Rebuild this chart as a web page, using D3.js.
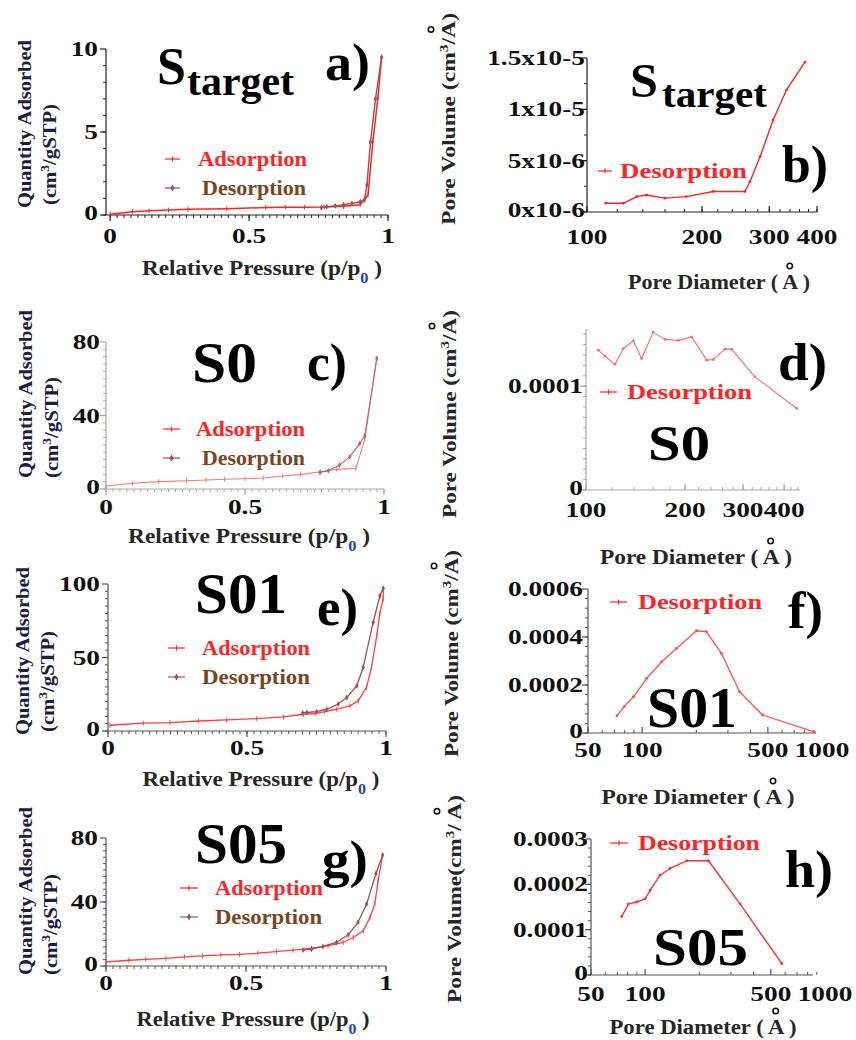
<!DOCTYPE html>
<html>
<head>
<meta charset="utf-8">
<script src="https://cdn.jsdelivr.net/npm/d3@7"></script>
<style>
  body { margin: 0; background: #fff; }
  svg, svg text, svg tspan { font-family: "Liberation Serif", "DejaVu Serif", serif; font-weight: bold; }
</style>
</head>
<body>
<script>
// ---------- data ----------
// a) S_target isotherm
const aAdsP = [0.0, 0.08, 0.14, 0.21, 0.28, 0.42, 0.56, 0.63, 0.70, 0.77, 0.84, 0.90, 0.928, 0.946, 0.964, 0.977];
const aAdsQ = [0.05, 0.2, 0.25, 0.3, 0.35, 0.38, 0.45, 0.47, 0.47, 0.48, 0.52, 0.62, 1.2, 4.5, 7.1, 9.5];
const aDesP = [0.977, 0.955, 0.937, 0.924, 0.915, 0.90, 0.87, 0.84, 0.81, 0.78, 0.76];
const aDesQ = [9.5, 7.0, 4.4, 1.8, 0.9, 0.8, 0.7, 0.62, 0.55, 0.5, 0.45];
// b) S_target pore size distribution
const bDia = [112, 124.5, 135, 143, 160, 182, 214, 259, 267, 284, 307, 333, 372];
const bVol = [0.85e-6, 0.85e-6, 1.5e-6, 1.65e-6, 1.35e-6, 1.5e-6, 2.0e-6, 2.0e-6, 2.95e-6, 5.4e-6, 8.96e-6, 11.9e-6, 14.6e-6];
// c) S0 isotherm
const cAdsP = [0, 0.095, 0.19, 0.29, 0.36, 0.426, 0.5, 0.565, 0.636, 0.7, 0.77, 0.83, 0.899, 0.931, 0.974];
const cAdsQ = [1.6, 3.1, 4, 4.5, 4.9, 5.3, 5.6, 6, 7.1, 7.8, 9.4, 10.7, 11.3, 27, 71];
const cDesP = [0.974, 0.931, 0.913, 0.877, 0.84, 0.80, 0.77];
const cDesQ = [71, 29, 24.8, 17.6, 13, 10, 9];
// d) S0 pore size distribution
const dDia = [109, 114.2, 122.5, 129.8, 139.2, 147.6, 160, 173.8, 190.7, 209.5, 232.8, 243.6, 264.4, 277, 326, 437];
const dVol = [134.6e-6, 128.8e-6, 121e-6, 136e-6, 143.6e-6, 126.6e-6, 152e-6, 145e-6, 144e-6, 147.4e-6, 125e-6, 125.6e-6, 135.6e-6, 135.6e-6, 109e-6, 78.5e-6];
// e) S01 isotherm
const eAdsP = [0.007, 0.127, 0.223, 0.325, 0.427, 0.535, 0.631, 0.703, 0.745, 0.78, 0.823, 0.87, 0.90, 0.93, 0.948, 0.967, 0.978, 0.99, 0.99];
const eAdsQ = [3.9, 5.3, 5.7, 6.8, 7.5, 8.4, 9.6, 11.4, 11.9, 13.2, 14.8, 17.1, 20.5, 29.7, 43.4, 65, 80, 90, 97];
const eDesP = [0.99, 0.978, 0.954, 0.918, 0.895, 0.859, 0.828, 0.787, 0.75, 0.715, 0.70];
const eDesQ = [97, 92, 74, 43.4, 30.8, 22.8, 18.3, 14.8, 13.2, 12.6, 12.3];
// f) S01 pore size distribution
const fDia = [72.5, 79.5, 89.5, 106, 128.5, 155.5, 200.5, 227.5, 276, 348, 467, 905];
const fVol = [72e-6, 110e-6, 151e-6, 228e-6, 297e-6, 353e-6, 426e-6, 422e-6, 332e-6, 172e-6, 75e-6, 5e-6];
// g) S05 isotherm
const gAdsP = [0, 0.082, 0.142, 0.214, 0.28, 0.345, 0.41, 0.477, 0.542, 0.608, 0.668, 0.734, 0.793, 0.847, 0.883, 0.919, 0.943, 0.96, 0.972, 0.988];
const gAdsQ = [2.5, 3.6, 4.2, 4.8, 5.7, 6.3, 6.9, 7.3, 8, 9, 9.9, 11.1, 12.6, 14.7, 17.8, 22, 30.4, 38.8, 53.5, 69.3];
const gDesP = [0.988, 0.964, 0.931, 0.90, 0.865, 0.823, 0.775, 0.734, 0.704];
const gDesQ = [69.3, 57.8, 38.8, 27.3, 19.5, 14.7, 12.2, 10.5, 9.9];
// h) S05 pore size distribution
const hDia = [74.2, 80.8, 89.9, 100, 106.6, 121, 137.6, 170, 225, 337, 575];
const hVol = [129e-6, 157e-6, 161e-6, 168e-6, 187e-6, 220e-6, 235e-6, 252e-6, 252e-6, 157e-6, 25e-6];

// tick values and labels
const isoXTicks = [0, 0.5, 1];
const isoXLabels = ["0", "0.5", "1"];
const bdXTicks = [100, 200, 300, 400];
const fhXTicks = [50, 100, 500, 1000];
const aYTicks = [0, 5, 10];
const bYTicks = [0, 5e-6, 1e-5, 1.5e-5];
const bYLabels = ["0x10-6", "5x10-6", "1x10-5", "1.5x10-5"];
const cYTicks = [0, 40, 80];
const dYTicks = [0, 1e-4];
const dYLabels = ["0", "0.0001"];
const eYTicks = [0, 50, 100];
const fYTicks = [0, 2e-4, 4e-4, 6e-4];
const fYLabels = ["0", "0.0002", "0.0004", "0.0006"];
const gYTicks = [0, 40, 80];
const hYTicks = [0, 1e-4, 2e-4, 3e-4];
const hYLabels = ["0", "0.0001", "0.0002", "0.0003"];

// ---------- drawing ----------
const FONT = "Liberation Serif, DejaVu Serif, serif";
const svg = d3.select("body").append("svg").attr("width", 856).attr("height", 1040)
  .attr("font-family", FONT).attr("font-weight", "bold");
const RED = "#ff2424";
const NAVY = "#1c1c44";
const BROWN = "#7a4520";

function fit(t, w) {
  return t.attr("textLength", w).attr("lengthAdjust", "spacingAndGlyphs");
}
function stretch(sel, k) {
  sel.each(function() {
    const w = this.getComputedTextLength();
    d3.select(this).attr("textLength", w * k).attr("lengthAdjust", "spacingAndGlyphs");
  });
}
function rich(parent, parts, size, fill) {
  const t = parent.append("text").attr("font-size", size).attr("fill", fill);
  parts.forEach(p => {
    const s = t.append("tspan").text(p.t);
    if (p.sup) s.attr("baseline-shift", "super").attr("font-size", size * 0.65);
    if (p.sub) s.attr("baseline-shift", "sub").attr("font-size", size * 0.7);
    if (p.fill) s.attr("fill", p.fill);
  });
  return t;
}
function ring(g, t, up) {
  const i = t.text().lastIndexOf("A");
  const e = t.node().getExtentOfChar(i);
  g.append("circle").attr("cx", e.x + e.width / 2).attr("cy", e.y - up)
    .attr("r", 2.7).attr("fill", "none").attr("stroke", "#111").attr("stroke-width", 1.6);
}

function panel(p) {
  const g = svg.append("g");
  const x = (p.log ? d3.scaleLog() : d3.scaleLinear()).domain(p.xDom).range(p.xR);
  const y = d3.scaleLinear().domain(p.yDom).range(p.yR);
  const ax = p.xR[0], ay = p.yR[0];
  const xEnd = p.xEnd || p.xR[1];

  // axes
  g.append("line").attr("x1", ax).attr("x2", ax).attr("y1", ay).attr("y2", p.yR[1])
    .attr("stroke", p.axis).attr("stroke-width", 1.2);
  g.append("line").attr("x1", ax).attr("x2", xEnd).attr("y1", ay).attr("y2", ay)
    .attr("stroke", p.axis).attr("stroke-width", 1.2);

  g.selectAll("line.ymin").data(p.yMinor).join("line").attr("class", "ymin")
    .attr("x1", ax).attr("x2", ax - 3).attr("y1", d => y(d)).attr("y2", d => y(d))
    .attr("stroke", p.axis).attr("stroke-width", 1);
  g.selectAll("line.ymaj").data(p.yTicks).join("line").attr("class", "ymaj")
    .attr("x1", ax).attr("x2", ax - 6).attr("y1", d => y(d)).attr("y2", d => y(d))
    .attr("stroke", p.axis).attr("stroke-width", 1.2);
  const dir = p.log ? -1 : 1;
  g.selectAll("line.xmin").data(p.xMinor).join("line").attr("class", "xmin")
    .attr("x1", d => x(d)).attr("x2", d => x(d)).attr("y1", ay).attr("y2", ay + 3 * dir)
    .attr("stroke", p.axis).attr("stroke-width", 1);
  g.selectAll("line.xmaj").data(p.xTicks.filter(d => x(d) <= xEnd + 1)).join("line").attr("class", "xmaj")
    .attr("x1", d => x(d)).attr("x2", d => x(d)).attr("y1", ay).attr("y2", ay + 6 * dir)
    .attr("stroke", p.axis).attr("stroke-width", 1.2);

  // tick labels
  const yl = g.selectAll("text.yl").data(p.yTicks).join("text").attr("class", "yl")
    .attr("x", ax - p.yGap).attr("y", (d, i) => y(d) + (i === 0 ? 5 : 7)).attr("text-anchor", "end")
    .attr("font-size", 21).attr("fill", "#111")
    .text((d, i) => p.yLabels[i]);
  stretch(yl, 1.3);
  const xl = g.selectAll("text.xl").data(p.xTicks).join("text").attr("class", "xl")
    .attr("x", d => x(d)).attr("y", p.xLabY + 7).attr("text-anchor", "middle")
    .attr("font-size", 21).attr("fill", "#111")
    .text((d, i) => p.xLabels[i]);
  stretch(xl, 1.3);

  // curves
  const line = d3.line().x(d => x(d[0])).y(d => y(d[1]));
  p.series.forEach(s => {
    const pts = d3.zip(s.x, s.y);
    g.append("path").datum(pts).attr("d", line).attr("fill", "none")
      .attr("stroke", s.color).attr("stroke-width", s.w).attr("stroke-linejoin", "round");
    if (s.mark === "tick") {
      g.selectAll(null).data(pts).join("line")
        .attr("x1", d => x(d[0])).attr("x2", d => x(d[0]))
        .attr("y1", d => y(d[1]) - 2.5).attr("y2", d => y(d[1]) + 2.5)
        .attr("stroke", s.color).attr("stroke-width", 1);
    } else if (s.mark === "diamond") {
      g.selectAll(null).data(pts).join("path")
        .attr("transform", d => `translate(${x(d[0])},${y(d[1])})`)
        .attr("d", d3.symbol(d3.symbolDiamond, 10)).attr("fill", s.color);
    } else {
      g.selectAll(null).data(pts).join("circle")
        .attr("cx", d => x(d[0])).attr("cy", d => y(d[1])).attr("r", 1.4).attr("fill", s.color);
    }
  });

  // legend
  p.legend.forEach(l => {
    g.append("line").attr("x1", l.x0).attr("x2", l.x1).attr("y1", l.y).attr("y2", l.y)
      .attr("stroke", l.color).attr("stroke-width", 1.2);
    const mx = (l.x0 + l.x1) / 2;
    if (l.mark === "diamond") {
      g.append("path").attr("transform", `translate(${mx},${l.y})`)
        .attr("d", d3.symbol(d3.symbolDiamond, 14)).attr("fill", l.color);
    } else {
      g.append("line").attr("x1", mx).attr("x2", mx).attr("y1", l.y - 2.5).attr("y2", l.y + 2.5)
        .attr("stroke", l.color).attr("stroke-width", 1.2);
    }
    fit(g.append("text").attr("x", l.tx).attr("y", l.y + 7).attr("font-size", 21)
      .attr("fill", l.tcolor).text(l.text), l.tw);
  });

  // sample name and panel letter
  const T = p.title;
  fit(g.append("text").attr("x", T.x).attr("y", T.y).attr("font-size", T.size).attr("fill", "#000").text(T.s), T.w);
  if (T.sub) {
    fit(g.append("text").attr("x", T.sx).attr("y", T.sy).attr("font-size", T.ssize).attr("fill", "#000").text(T.sub), T.sw);
  }
  fit(g.append("text").attr("x", p.letter.x).attr("y", p.letter.y).attr("font-size", 52)
    .attr("fill", "#000").text(p.letter.t), p.letter.w);

  // axis titles
  const xg = g.append("g").attr("transform", `translate(${p.xTitle.cx},${p.xTitle.y})`);
  const xt = rich(xg, p.xTitle.parts, 20, "#262626").attr("text-anchor", "middle");
  fit(xt, p.xTitle.w);
  if (p.log) ring(xg, xt, 5);

  p.yTitle.forEach(yt => {
    const yg = g.append("g").attr("transform", `translate(${yt.x},${yt.y}) rotate(-90)`);
    const t = rich(yg, yt.parts, 19, yt.color);
    fit(t, yt.w);
    if (p.log) ring(yg, t, 7);
  });
}

// ---------- layout ----------
const presParts = [{t: "Relative Pressure (p/p"}, {t: "0", sub: true, fill: "#1f3fbf"}, {t: " )"}];
const diamParts = [{t: "Pore Diameter ( A )"}];
const volParts = [{t: "Pore Volume (cm"}, {t: "3", sup: true}, {t: "/A)"}];
const volPartsH = [{t: "Pore Volume(cm"}, {t: "3", sup: true}, {t: "/ A)"}];
const qParts = [{t: "Quantity Adsorbed"}];
const unitParts = [{t: "(cm"}, {t: "3", sup: true}, {t: "/gSTP)"}];
const isoMinorX = d3.range(0, 1.0001, 0.025);
const logMinorBD = d3.range(100, 441, 20);
const logMinorFH = [60, 70, 80, 90, 200, 300, 400, 600, 700, 800, 900];

function isoLegend(x0, x1, y1, y2, tx1, tw1, tx2, tw2, desColor) {
  return [
    {x0, x1, y: y1, color: RED, mark: "tick", tx: tx1, tw: tw1, text: "Adsorption", tcolor: RED},
    {x0, x1, y: y2, color: desColor, mark: "diamond", tx: tx2, tw: tw2, text: "Desorption", tcolor: BROWN}
  ];
}
function qTitles(x1, y1, x2, y2) {
  return [
    {x: x1, y: y1, w: 168, parts: qParts, color: NAVY},
    {x: x2, y: y2, w: 101, parts: unitParts, color: NAVY}
  ];
}

// a)
panel({
  xDom: [-0.015, 1], xR: [106, 388], yDom: [0, 10], yR: [215, 49], axis: "#222",
  yTicks: aYTicks, yLabels: ["0", "5", "10"], yMinor: d3.range(0, 10, 1), yGap: 8,
  xTicks: isoXTicks, xLabels: isoXLabels, xMinor: isoMinorX, xLabY: 236,
  series: [
    {x: aAdsP, y: aAdsQ, color: RED, w: 1.5, mark: "tick"},
    {x: aDesP, y: aDesQ, color: "#a8484f", w: 1.4, mark: "diamond"}
  ],
  legend: isoLegend(165, 180, 159, 188, 198, 109, 202, 104, "#a8484f"),
  title: {s: "S", x: 157, y: 84, size: 52, w: 29, sub: "target", sx: 187, sy: 95, ssize: 40, sw: 107},
  letter: {t: "a)", x: 325, y: 80, w: 45},
  xTitle: {cx: 262, y: 275, w: 240, parts: presParts},
  yTitle: qTitles(31, 208, 56, 205)
});

// b)
panel({
  log: true, xDom: [100, 400], xR: [587, 817], yDom: [0, 1.5e-5], yR: [212, 58], axis: "#222",
  yTicks: bYTicks, yLabels: bYLabels, yMinor: d3.range(0, 1.5e-5, 2.5e-6), yGap: 2,
  xTicks: bdXTicks, xLabels: bdXTicks.map(String), xMinor: d3.range(100, 401, 20), xLabY: 237,
  series: [{x: bDia, y: bVol, color: RED, w: 1.4, mark: "dot"}],
  legend: [{x0: 598, x1: 612, y: 171, color: RED, mark: "tick", tx: 620, tw: 127, text: "Desorption", tcolor: RED}],
  title: {s: "S", x: 630, y: 97, size: 48, w: 28, sub: "target", sx: 662, sy: 107, ssize: 38, sw: 105},
  letter: {t: "b)", x: 782, y: 182, w: 46},
  xTitle: {cx: 719, y: 289, w: 182, parts: diamParts},
  yTitle: [{x: 455, y: 225, w: 212, parts: volParts, color: "#262626"}]
});

// c)
panel({
  xDom: [0, 1], xR: [106, 384], yDom: [0, 80], yR: [489, 342], axis: "#a8a8a8",
  yTicks: cYTicks, yLabels: ["0", "40", "80"], yMinor: d3.range(0, 80, 4), yGap: 6,
  xTicks: isoXTicks, xLabels: isoXLabels, xMinor: isoMinorX, xLabY: 507,
  series: [
    {x: cAdsP, y: cAdsQ, color: "#f47a7a", w: 1.1, mark: "tick"},
    {x: cDesP, y: cDesQ, color: "#b8666e", w: 1.1, mark: "diamond"}
  ],
  legend: isoLegend(163, 180, 429, 458, 196, 109, 202, 103, "#a8484f"),
  title: {s: "S0", x: 192, y: 382, size: 58, w: 65},
  letter: {t: "c)", x: 307, y: 380, w: 40},
  xTitle: {cx: 249, y: 543, w: 242, parts: presParts},
  yTitle: qTitles(32, 478, 58, 478)
});

// d)
panel({
  log: true, xDom: [100, 447], xR: [586, 800], yDom: [0, 1.55e-4], yR: [490, 329], axis: "#a8a8a8",
  yTicks: dYTicks, yLabels: dYLabels, yMinor: d3.range(0, 1.55e-4, 1e-5), yGap: 3,
  xTicks: bdXTicks, xLabels: bdXTicks.map(String), xMinor: logMinorBD, xLabY: 510,
  series: [{x: dDia, y: dVol, color: "#f46e6e", w: 1.1, mark: "dot"}],
  legend: [{x0: 600, x1: 617, y: 392, color: RED, mark: "tick", tx: 627, tw: 125, text: "Desorption", tcolor: RED}],
  title: {s: "S0", x: 648, y: 460, size: 50, w: 62},
  letter: {t: "d)", x: 778, y: 380, w: 49},
  xTitle: {cx: 696, y: 564, w: 192, parts: diamParts},
  yTitle: [{x: 456, y: 518, w: 208, parts: volParts, color: "#262626"}]
});

// e)
panel({
  xDom: [0, 1], xR: [108, 386], yDom: [0, 100], yR: [731, 584], axis: "#555",
  yTicks: eYTicks, yLabels: ["0", "50", "100"], yMinor: d3.range(0, 100, 5), yGap: 8,
  xTicks: isoXTicks, xLabels: isoXLabels, xMinor: isoMinorX, xLabY: 748,
  series: [
    {x: eAdsP, y: eAdsQ, color: "#ff4040", w: 1.3, mark: "tick"},
    {x: eDesP, y: eDesQ, color: "#a0505a", w: 1.3, mark: "diamond"}
  ],
  legend: isoLegend(168, 185, 648, 677, 202, 108, 202, 108, "#a0505a"),
  title: {s: "S01", x: 195, y: 613, size: 58, w: 92},
  letter: {t: "e)", x: 317, y: 625, w: 41},
  xTitle: {cx: 261, y: 786, w: 237, parts: presParts},
  yTitle: qTitles(29, 735, 54, 732)
});

// f)
panel({
  log: true, xDom: [50, 1000], xR: [588, 822], xEnd: 816, yDom: [0, 6e-4], yR: [733, 589], axis: "#555",
  yTicks: fYTicks, yLabels: fYLabels, yMinor: d3.range(0, 6e-4, 4e-5), yGap: 5,
  xTicks: fhXTicks, xLabels: fhXTicks.map(String), xMinor: logMinorFH, xLabY: 750,
  series: [{x: fDia, y: fVol, color: "#ff5050", w: 1.3, mark: "dot"}],
  legend: [{x0: 610, x1: 627, y: 602, color: RED, mark: "tick", tx: 638, tw: 124, text: "Desorption", tcolor: RED}],
  title: {s: "S01", x: 647, y: 727, size: 58, w: 90},
  letter: {t: "f)", x: 788, y: 628, w: 35},
  xTitle: {cx: 698, y: 804, w: 193, parts: diamParts},
  yTitle: [{x: 458, y: 757, w: 207, parts: volParts, color: "#262626"}]
});

// g)
panel({
  xDom: [0, 1], xR: [106, 386], yDom: [0, 80], yR: [966, 838], axis: "#555",
  yTicks: gYTicks, yLabels: ["0", "40", "80"], yMinor: d3.range(0, 80, 4), yGap: 8,
  xTicks: isoXTicks, xLabels: isoXLabels, xMinor: isoMinorX, xLabY: 983,
  series: [
    {x: gAdsP, y: gAdsQ, color: "#ff4040", w: 1.3, mark: "tick"},
    {x: gDesP, y: gDesQ, color: "#a0505a", w: 1.3, mark: "diamond"}
  ],
  legend: isoLegend(180, 198, 888, 917, 215, 108, 215, 107, "#a0505a"),
  title: {s: "S05", x: 195, y: 863, size: 58, w: 92},
  letter: {t: "g)", x: 322, y: 877, w: 46},
  xTitle: {cx: 253, y: 1026, w: 233, parts: presParts},
  yTitle: qTitles(32, 975, 57, 975)
});

// h)
panel({
  log: true, xDom: [50, 1000], xR: [591, 825], xEnd: 813, yDom: [0, 3e-4], yR: [975, 839], axis: "#555",
  yTicks: hYTicks, yLabels: hYLabels, yMinor: d3.range(0, 3e-4, 2e-5), yGap: 3,
  xTicks: fhXTicks, xLabels: fhXTicks.map(String), xMinor: logMinorFH, xLabY: 994,
  series: [{x: hDia, y: hVol, color: "#ff3030", w: 1.4, mark: "dot"}],
  legend: [{x0: 610, x1: 628, y: 843, color: RED, mark: "tick", tx: 638, tw: 122, text: "Desorption", tcolor: RED}],
  title: {s: "S05", x: 653, y: 965, size: 53, w: 95},
  letter: {t: "h)", x: 785, y: 887, w: 48},
  xTitle: {cx: 703, y: 1034, w: 187, parts: diamParts},
  yTitle: [{x: 461, y: 1003, w: 208, parts: volPartsH, color: "#262626"}]
});
</script>
</body>
</html>
